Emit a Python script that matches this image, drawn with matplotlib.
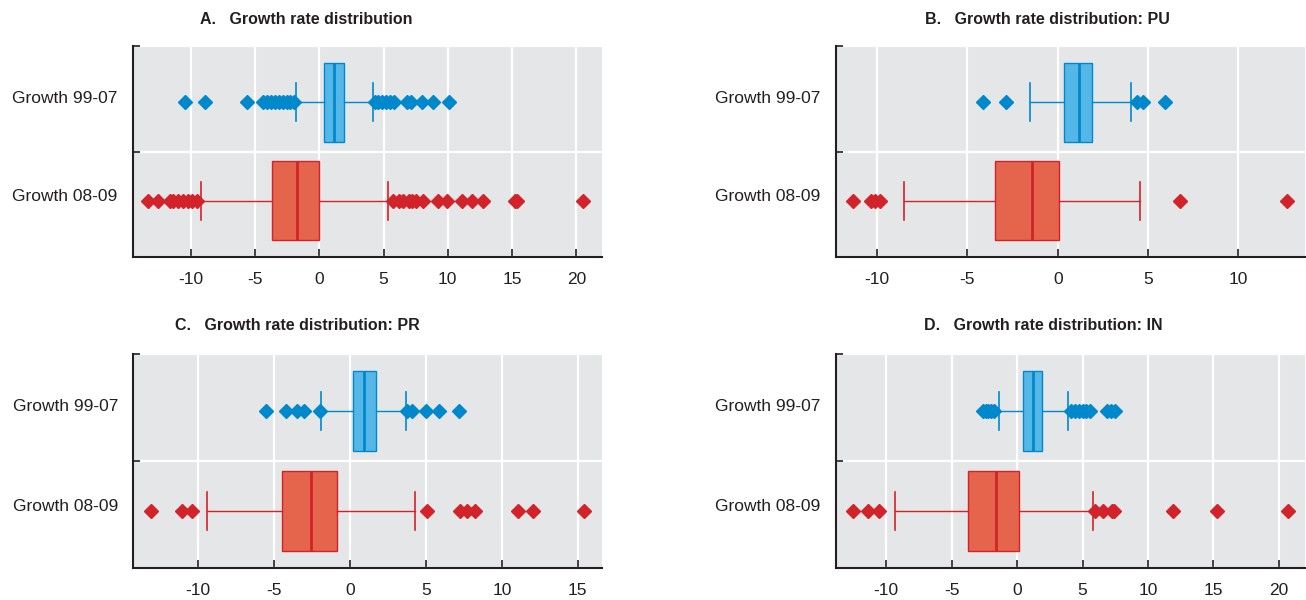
import matplotlib
matplotlib.use('Agg')
import matplotlib.pyplot as plt
from matplotlib.ticker import FixedLocator

# ---------------- data ----------------
categories = ['Growth 99-07', 'Growth 08-09']
panel_titles = ['A.   Growth rate distribution',
                'B.   Growth rate distribution: PU',
                'C.   Growth rate distribution: PR',
                'D.   Growth rate distribution: IN']

# box stats: [q1, median, q3, whisker_low, whisker_high]
A_9907_box = [0.37, 1.17, 1.92, -1.81, 4.20]
A_9907_out = [-10.45, -8.9, -5.65, -4.36, -4.05, -3.75, -3.45, -3.15, -2.85, -2.55, -2.25, -1.95,
              4.3, 4.6, 4.9, 5.2, 5.5, 5.8, 6.8, 7.1, 7.97, 8.87, 10.09]
A_0809_box = [-3.70, -1.76, 0.00, -9.23, 5.35]
A_0809_out = [-13.3, -12.53, -11.62, -11.36, -11.0, -10.58, -10.2, -9.93, -9.55,
              5.76, 6.2, 6.54, 7.0, 7.19, 7.5, 8.1, 9.27, 9.92, 11.09, 11.87, 12.7, 15.2, 15.35, 20.56]

B_9907_box = [0.37, 1.16, 1.92, -1.52, 4.06]
B_9907_out = [-4.16, -2.87, 4.41, 4.75, 5.95]
B_0809_box = [-3.46, -1.41, 0.09, -8.52, 4.56]
B_0809_out = [-11.33, -10.37, -10.1, -9.86, 6.78, 12.73]

C_9907_box = [0.18, 0.92, 1.69, -1.93, 3.71]
C_9907_out = [-5.53, -4.22, -3.51, -3.01, -1.98, 3.78, 4.06, 5.0, 5.86, 7.2]
C_0809_box = [-4.46, -2.59, -0.84, -9.44, 4.26]
C_0809_out = [-13.13, -11.09, -10.43, 5.09, 7.25, 7.69, 8.23, 11.09, 12.08, 15.44]

D_9907_box = [0.48, 1.25, 1.91, -1.38, 3.92]
D_9907_out = [-2.6, -2.4, -2.2, -2.0, -1.75, 4.1, 4.4, 4.7, 5.0, 5.3, 5.6, 6.9, 7.2, 7.5]
D_0809_box = [-3.72, -1.61, 0.15, -9.35, 5.83]
D_0809_out = [-12.56, -11.41, -10.52, 5.96, 6.6, 7.24, 7.4, 11.9, 15.27, 20.7]

x_ticks_A = [-10, -5, 0, 5, 10, 15, 20]
x_ticks_B = [-10, -5, 0, 5, 10]
x_ticks_C = [-10, -5, 0, 5, 10, 15]
x_ticks_D = [-10, -5, 0, 5, 10, 15, 20]

# ---------------- style ----------------
plt.rcParams['font.family'] = ['Liberation Sans', 'DejaVu Sans']
BG = '#E5E6E8'
SPINE = '#231F20'
TXT = '#231F20'
BLUE_FILL, BLUE_EDGE = '#55B7E8', '#0088CC'
RED_FILL, RED_EDGE = '#E4644C', '#D2232A'

W, H = 1306, 600
fig = plt.figure(figsize=(W / 100, H / 100), dpi=100)


def rect(l, t, r, b):
    return [l / W, 1 - b / H, (r - l) / W, (b - t) / H]


panels = [
    dict(rect=rect(133, 46, 602, 257), xlim=(-14.5, 22.0), ticks=x_ticks_A,
         data=[(A_9907_box, A_9907_out), (A_0809_box, A_0809_out)],
         title=panel_titles[0], tpos=(306.5, 19)),
    dict(rect=rect(835.7, 46, 1305, 257), xlim=(-12.3, 13.7), ticks=x_ticks_B,
         data=[(B_9907_box, B_9907_out), (B_0809_box, B_0809_out)],
         title=panel_titles[1], tpos=(1047.5, 19)),
    dict(rect=rect(133.3, 354, 601.7, 567.7), xlim=(-14.28, 16.58), ticks=x_ticks_C,
         data=[(C_9907_box, C_9907_out), (C_0809_box, C_0809_out)],
         title=panel_titles[2], tpos=(297, 325)),
    dict(rect=rect(835.7, 354, 1305, 567.7), xlim=(-13.86, 22.0), ticks=x_ticks_D,
         data=[(D_9907_box, D_9907_out), (D_0809_box, D_0809_out)],
         title=panel_titles[3], tpos=(1043, 325)),
]

PAD = 0.57
LABEL_LIFT = 0.055
colors = [(BLUE_FILL, BLUE_EDGE), (RED_FILL, RED_EDGE)]

for p in panels:
    ax = fig.add_axes(p['rect'])
    ax.set_facecolor(BG)
    for i, ((q1, med, q3, lo, hi), out) in enumerate(p['data']):
        fill, edge = colors[i]
        stats = [dict(q1=q1, med=med, q3=q3, whislo=lo, whishi=hi, fliers=out, label=categories[i])]
        ax.bxp(stats, positions=[i], widths=0.8, capwidths=0.38, orientation='horizontal',
               patch_artist=True, manage_ticks=False,
               boxprops=dict(facecolor=fill, edgecolor=edge, linewidth=1.0),
               medianprops=dict(color=edge, linewidth=2.0),
               whiskerprops=dict(color=edge, linewidth=1.0),
               capprops=dict(color=edge, linewidth=1.2),
               flierprops=dict(marker='D', markerfacecolor=edge, markeredgecolor=edge,
                               markersize=7.5, linestyle='none'))
    ax.set_xlim(*p['xlim'])
    ax.set_ylim(1 + PAD, -PAD)
    ax.set_xticks(p['ticks'])
    ax.set_xticklabels([str(t) for t in p['ticks']])
    ax.set_yticks([i - LABEL_LIFT for i in range(len(categories))])
    ax.set_yticklabels(categories)
    ax.yaxis.set_minor_locator(FixedLocator([-PAD, 0.5, 1 + PAD]))
    ax.tick_params(axis='y', which='major', length=0, pad=11, labelsize=12.5, labelcolor=TXT)
    ax.tick_params(axis='y', which='minor', length=5, width=1.2, direction='in', color=SPINE)
    ax.tick_params(axis='x', which='major', length=6, width=1.2, direction='in', color=SPINE,
                   pad=11, labelsize=12.5, labelcolor=TXT)
    ax.grid(axis='x', which='major', color='white', linewidth=1.6)
    ax.grid(axis='y', which='minor', color='white', linewidth=1.6)
    ax.set_axisbelow(True)
    for s in ['top', 'right']:
        ax.spines[s].set_visible(False)
    for s in ['left', 'bottom']:
        ax.spines[s].set_color(SPINE)
        ax.spines[s].set_linewidth(1.5)
    tx, ty = p['tpos']
    fig.text(tx / W, 1 - ty / H, p['title'], ha='center', va='center', fontsize=11.5,
             fontweight='bold', color=TXT)

fig.savefig('out.png', dpi=100)
